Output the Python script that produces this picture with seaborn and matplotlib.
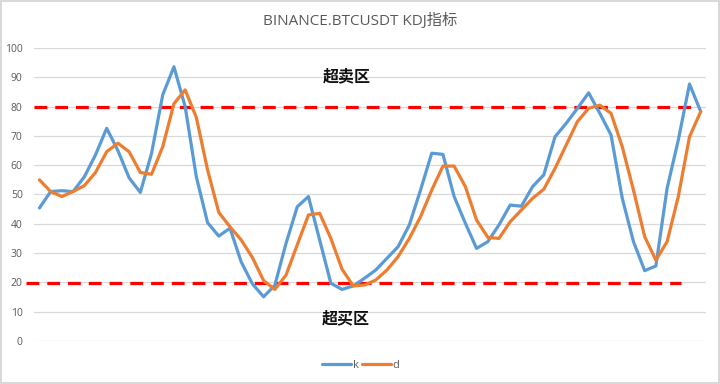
import numpy as np
import pandas as pd
import matplotlib
matplotlib.use("Agg")
import matplotlib.pyplot as plt
import seaborn as sns

# KDJ values (60 periods)
k_values = [45.4, 51, 51.3, 51, 56, 63.5, 72.6, 65, 55.7, 50.7,
            64, 84, 93.6, 80, 56, 40.4, 35.8, 38.5, 27, 19.5,
            15.1, 19, 33.3, 45.8, 49.3, 34.5, 19.7, 17.6, 18.8, 21.4,
            24.2, 28.2, 32.2, 39.6, 51.5, 64.1, 63.7, 49.3, 40.2, 31.6,
            33.9, 39.6, 46.4, 46, 52.7, 56.7, 69.7, 74.3, 79.4, 84.7,
            77.7, 70.3, 48.7, 33.9, 24, 25.6, 52.1, 68.6, 87.7, 78.3]
d_values = [55, 51, 49.3, 51, 53, 57.5, 64.6, 67.5, 64.6, 57.5,
            56.9, 66.3, 81, 85.7, 76.3, 58.4, 43.9, 39, 34.5, 28.5,
            20.6, 17.6, 22.5, 32.8, 43, 43.6, 35, 24.5, 18.8, 19.1,
            20.8, 24.2, 28.8, 35, 42.4, 51.5, 59.7, 59.7, 52.7, 41.3,
            35.4, 35, 40.7, 44.7, 48.7, 51.8, 58.9, 66.9, 74.9, 79.4,
            80.5, 77.7, 66.3, 51.5, 35.6, 27.6, 33.9, 49.3, 69.7, 78.3]
series_names = ["k", "d"]
y_ticks = list(range(0, 101, 10))
upper_level = 80
lower_level = 20
upper_label = "超卖区"
lower_label = "超买区"
title = "BINANCE.BTCUSDT KDJ指标"

period = np.arange(len(k_values))
df = pd.DataFrame({
    "period": np.concatenate([period, period]),
    "value": k_values + d_values,
    "series": ["k"] * len(k_values) + ["d"] * len(d_values),
})

sns.set_theme(style="white")
plt.rcParams["font.family"] = ["Open Sans", "Noto Sans CJK SC", "DejaVu Sans"]

fig = plt.figure(figsize=(7.2, 3.84), dpi=100)
fig.patch.set_edgecolor("#D9D9D9")
fig.patch.set_linewidth(1.5)
ax = fig.add_axes([0.047, 0.112, 0.934, 0.763])

palette = {"k": "#5B9BD5", "d": "#ED7D31"}
sns.lineplot(data=df, x="period", y="value", hue="series", hue_order=series_names,
             palette=palette, linewidth=2.3, ax=ax, legend=True)

ax.set_xlim(-0.5, len(k_values) - 0.5)
ax.set_ylim(0, 100)
ax.set_yticks(y_ticks)
ax.set_xticks([])
ax.set_xlabel("")
ax.set_ylabel("")
ax.tick_params(axis="y", length=0, labelsize=7.5, labelcolor="#595959", pad=8)
ax.yaxis.grid(True, color="#D9D9D9", linewidth=0.9)
ax.set_axisbelow(True)
for s in ax.spines.values():
    s.set_visible(False)

# threshold lines
ax.axhline(upper_level, xmin=0.0, xmax=0.977, color="#FF0000", linestyle=(0, (4, 2.5)),
           linewidth=2.3, zorder=1)
ax.axhline(lower_level - 0.3, xmin=-0.012, xmax=0.963, color="#FF0000",
           linestyle=(0, (4, 2.5)), linewidth=2.3, zorder=1, clip_on=False)

yt = ax.get_yaxis_transform()
ax.text(0.466, 90.2, upper_label, ha="center", va="center", fontsize=11.5,
        fontweight="bold", color="#111111", family=["Noto Sans CJK SC"], transform=yt)
ax.text(0.464, 7.8, lower_label, ha="center", va="center", fontsize=11.5,
        fontweight="bold", color="#111111", family=["Noto Sans CJK SC"], transform=yt)

fig.text(0.5, 0.945, title, ha="center", va="center", fontsize=11,
         color="#595959")

leg = ax.legend(loc="upper center", bbox_to_anchor=(0.486, -0.03), ncol=2, frameon=False,
                fontsize=8, handlelength=2.6, columnspacing=0.25, handletextpad=0.2)
for t in leg.get_texts():
    t.set_color("#595959")

fig.savefig("out.png", dpi=100, edgecolor=fig.get_edgecolor())
